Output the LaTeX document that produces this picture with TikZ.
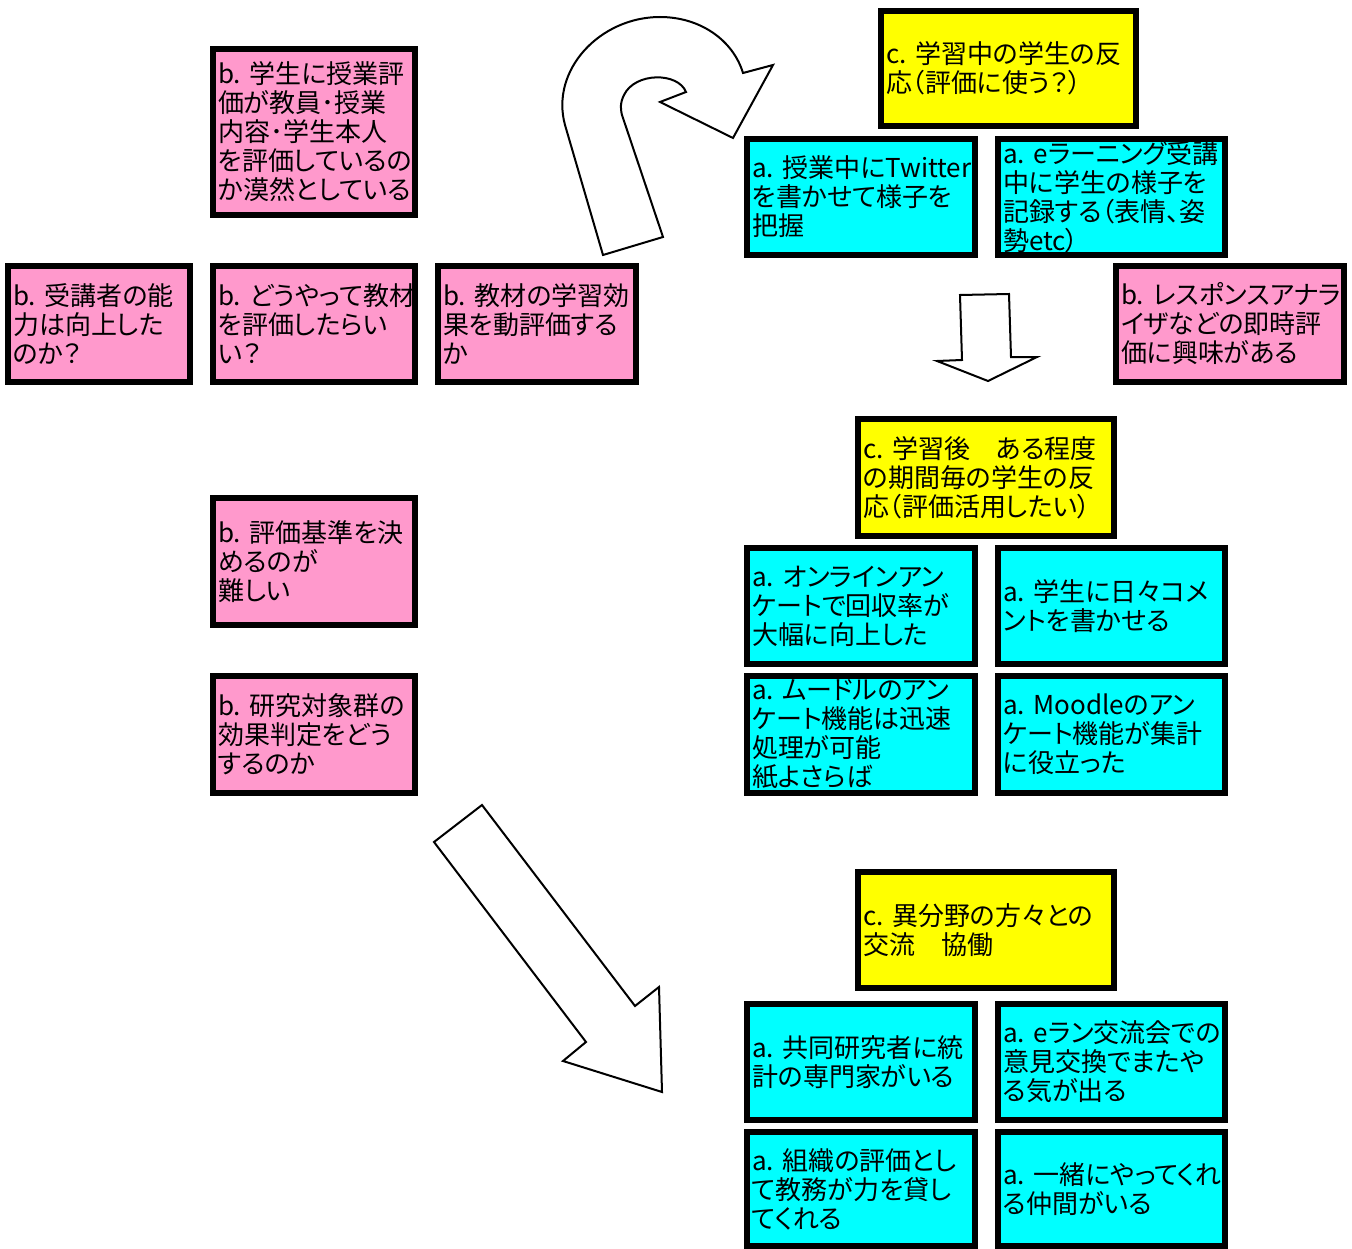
\documentclass[tikz,border=0pt]{standalone}
\usepackage{fontspec}
\setmainfont{Noto Sans CJK JP}[RawFeature=+palt]
\hyphenpenalty=10000
\exhyphenpenalty=10000
\definecolor{pinkb}{HTML}{FF99CC}
\definecolor{cyanb}{HTML}{00FFFF}
\definecolor{yellowb}{HTML}{FFFF00}
\tikzset{
  box/.style={draw=black, line width=6pt, inner xsep=5pt, inner ysep=0pt,
    align=left, font=\fontsize{26}{29}\selectfont},
  blockarrow/.style={draw=black, fill=white, line width=2pt, line join=miter}
}
\newcommand\bx[7]{%
  \pgfmathsetmacro\bxcx{(#2+#4)/2}%
  \pgfmathsetmacro\bxcy{(#3+#5)/2}%
  \pgfmathsetmacro\bxw{#4-#2-6}%
  \pgfmathsetmacro\bxh{#5-#3-6}%
  \pgfmathsetmacro\bxt{#4-#2-16}%
  \node[box, fill=#6, minimum width=\bxw pt, minimum height=\bxh pt, text width=\bxt pt] (#1) at (\bxcx,\bxcy) {#7};}
\begin{document}
\begin{tikzpicture}[x=1pt,y=-1pt]
\useasboundingbox (0,0) rectangle (1352,1249);
\fill[white] (0,0) rectangle (1352,1249);

% left pink boxes
\bx{bA}{210}{46}{418}{218}{pinkb}{b.\nobreak\ 学生に授業評\\価が教員･授業\\内容･学生本人\\を評価しているの\\か漠然としている}
\bx{bB}{5}{263}{193}{385}{pinkb}{b.\nobreak\ 受講者の能\\力は向上した\\のか？}
\bx{bC}{210}{263}{418}{385}{pinkb}{b.\nobreak\ どうやって教材\\を評価したらい\\い？}
\bx{bD}{435}{263}{639}{385}{pinkb}{b.\nobreak\ 教材の学習効\\果を動評価する\\か}
\bx{bE}{210}{495}{418}{628}{pinkb}{b.\nobreak\ 評価基準を決\\めるのが\\難しい}
\bx{bF}{210}{673}{418}{796}{pinkb}{b.\nobreak\ 研究対象群の\\効果判定をどう\\するのか}
\bx{bG}{1113}{263}{1347}{385}{pinkb}{b.\nobreak\ レスポンスアナラ\\イザなどの即時評\\価に興味がある}

% yellow boxes
\bx{cA}{878}{8}{1139}{129}{yellowb}{c.\nobreak\ 学習中の学生の反\\応（評価に使う？）}
\bx{cB}{855}{416}{1117}{539}{yellowb}{c.\nobreak\ 学習後　ある程度\\の期間毎の学生の反\\応（評価活用したい）}
\bx{cC}{855}{869}{1117}{991}{yellowb}{c.\nobreak\ 異分野の方々との\\交流　協働}

% cyan boxes
\bx{aA}{744}{136}{978}{258}{cyanb}{a.\nobreak\ 授業中にTwitter\\を書かせて様子を\\把握}
\bx{aB}{995}{136}{1228}{258}{cyanb}{a.\nobreak\ eラーニング受講\\中に学生の様子を\\記録する（表情、姿\\勢etc）}
\bx{aC}{744}{545}{978}{667}{cyanb}{a.\nobreak\ オンラインアン\\ケートで回収率が\\大幅に向上した}
\bx{aD}{995}{545}{1228}{667}{cyanb}{a.\nobreak\ 学生に日々コメ\\ントを書かせる}
\bx{aE}{744}{673}{978}{796}{cyanb}{a.\nobreak\ ムードルのアン\\ケート機能は迅速\\処理が可能\\紙よさらば}
\bx{aF}{995}{673}{1228}{796}{cyanb}{a.\nobreak\ Moodleのアン\\ケート機能が集計\\に役立った}
\bx{aG}{744}{1001}{978}{1123}{cyanb}{a.\nobreak\ 共同研究者に統\\計の専門家がいる}
\bx{aH}{995}{1001}{1228}{1123}{cyanb}{a.\nobreak\ eラン交流会での\\意見交換でまたや\\る気が出る}
\bx{aI}{744}{1129}{978}{1249}{cyanb}{a.\nobreak\ 組織の評価とし\\て教務が力を貸し\\てくれる}
\bx{aJ}{995}{1129}{1228}{1249}{cyanb}{a.\nobreak\ 一緒にやってくれ\\る仲間がいる}

% U-turn block arrow
\draw[blockarrow] (603,255) -- (565,125)
  .. controls (550,70) and (600,17) .. (660,17)
  .. controls (700,17) and (733,40) .. (743,73)
  -- (773,65) -- (733,138) -- (660,102) -- (686,92)
  .. controls (678,72) and (635,72) .. (624,95)
  .. controls (620,103) and (620,110) .. (623,118)
  -- (663,237) -- cycle;

% down block arrow
\draw[blockarrow] (960,295) -- (1009,294) -- (1011,357) -- (1037,357)
  -- (988,381) -- (937,361) -- (962,360) -- cycle;

% diagonal block arrow
\draw[blockarrow] (434,842) -- (482,805) -- (635,1006) -- (659,987)
  -- (662,1092) -- (563,1061) -- (586,1042) -- cycle;
\end{tikzpicture}
\end{document}
